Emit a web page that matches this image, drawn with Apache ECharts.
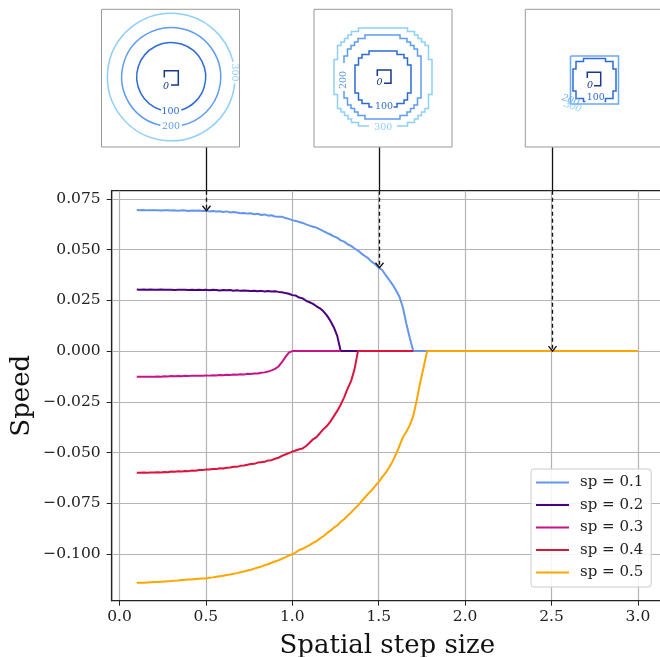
<!DOCTYPE html>
<html><head><meta charset="utf-8">
<script src="https://cdn.jsdelivr.net/npm/echarts@6/dist/echarts.min.js"></script>
<style>html,body{margin:0;padding:0;background:#fff}#c{width:660px;height:657px}</style>
</head><body><div id="c"></div>
<script>
// ---------------- data ----------------
const xs = [0.10,0.12,0.14,0.16,0.18,0.20,0.22,0.24,0.26,0.28,
            0.30,0.32,0.34,0.36,0.38,0.40,0.42,0.44,0.46,0.48,
            0.50,0.52,0.54,0.56,0.58,0.60,0.62,0.64,0.66,0.68,
            0.70,0.72,0.74,0.76,0.78,0.80,0.82,0.84,0.86,0.88,
            0.90,0.92,0.94,0.96,0.98,1.00,1.02,1.04,1.06,1.08,
            1.10,1.12,1.14,1.16,1.18,1.20,1.22,1.24,1.26,1.28,
            1.30,1.32,1.34,1.36,1.38,1.40,1.42,1.44,1.46,1.48,
            1.50,1.52,1.54,1.56,1.58,1.60,1.62,1.64,1.66,1.68,
            1.70,1.72,1.74,1.76,1.78,1.80];
const sp01 = [0.0696,0.0695,0.0696,0.0694,0.0695,0.0694,0.0695,0.0693,0.0694,0.0695,
              0.0693,0.0694,0.0692,0.0694,0.0693,0.0691,0.0693,0.0692,0.0693,0.0691,
              0.0692,0.0689,0.0691,0.0688,0.0690,0.0686,0.0689,0.0684,0.0686,0.0683,
              0.0680,0.0681,0.0678,0.0680,0.0675,0.0677,0.0671,0.0674,0.0668,0.0670,
              0.0664,0.0662,0.0663,0.0656,0.0652,0.0646,0.0642,0.0637,0.0632,0.0625,
              0.0619,0.0613,0.0609,0.0600,0.0592,0.0583,0.0575,0.0566,0.0559,0.0546,
              0.0540,0.0527,0.0519,0.0506,0.0496,0.0481,0.0469,0.0457,0.0440,0.0428,
              0.0411,0.0400,0.0375,0.0352,0.0328,0.0300,0.0268,0.0215,0.0135,0.0065,
              0,0,0,0,0];
const sp02 = [0.0304,0.0303,0.0304,0.0302,0.0304,0.0303,0.0302,0.0304,0.0303,0.0302,
              0.0303,0.0301,0.0303,0.0302,0.0303,0.0301,0.0302,0.0301,0.0303,0.0301,
              0.0302,0.0300,0.0302,0.0301,0.0299,0.0301,0.0300,0.0301,0.0298,0.0300,
              0.0297,0.0299,0.0298,0.0296,0.0298,0.0295,0.0297,0.0294,0.0296,0.0294,
              0.0295,0.0292,0.0290,0.0286,0.0283,0.0276,0.0274,0.0264,0.0260,0.0248,
              0.0241,0.0233,0.0221,0.0211,0.0196,0.0176,0.0150,0.0118,0.0075,0,
              0,0,0,0,0];
const sp03 = [-0.0127,-0.0127,-0.0126,-0.0127,-0.0126,-0.0126,-0.0125,-0.0126,-0.0124,-0.0125,
              -0.0123,-0.0124,-0.0123,-0.0124,-0.0122,-0.0123,-0.0121,-0.0122,-0.0121,-0.0122,
              -0.0120,-0.0121,-0.0119,-0.0120,-0.0118,-0.0119,-0.0117,-0.0118,-0.0116,-0.0117,
              -0.0114,-0.0116,-0.0112,-0.0113,-0.0110,-0.0111,-0.0107,-0.0105,-0.0101,-0.0095,
              -0.0088,-0.0076,-0.0055,-0.0030,-0.0008,0,0,0,0,0,
              0,0,0,0,0,0,0,0,0,0];
const sp04 = [-0.0600,-0.0600,-0.0599,-0.0600,-0.0599,-0.0599,-0.0598,-0.0599,-0.0596,-0.0597,
              -0.0594,-0.0595,-0.0593,-0.0594,-0.0591,-0.0592,-0.0589,-0.0590,-0.0586,-0.0587,
              -0.0584,-0.0584,-0.0581,-0.0582,-0.0578,-0.0579,-0.0575,-0.0574,-0.0570,-0.0571,
              -0.0566,-0.0564,-0.0561,-0.0557,-0.0556,-0.0550,-0.0548,-0.0546,-0.0539,-0.0538,
              -0.0531,-0.0526,-0.0517,-0.0510,-0.0503,-0.0496,-0.0490,-0.0484,-0.0480,-0.0468,
              -0.0452,-0.0435,-0.0424,-0.0405,-0.0385,-0.0370,-0.0348,-0.0322,-0.0295,-0.0265,
              -0.0228,-0.0185,-0.0148,-0.0090,0,0,0,0,0,0,
              0,0,0,0,0,0,0,0,0,0,
              0];
const sp05 = [-0.1143,-0.1142,-0.1142,-0.1141,-0.1140,-0.1139,-0.1139,-0.1137,-0.1136,-0.1135,
              -0.1134,-0.1132,-0.1131,-0.1129,-0.1128,-0.1126,-0.1126,-0.1124,-0.1123,-0.1122,
              -0.1121,-0.1118,-0.1116,-0.1113,-0.1110,-0.1108,-0.1104,-0.1102,-0.1098,-0.1095,
              -0.1091,-0.1087,-0.1082,-0.1078,-0.1073,-0.1067,-0.1063,-0.1056,-0.1051,-0.1044,
              -0.1038,-0.1032,-0.1024,-0.1017,-0.1008,-0.1002,-0.0993,-0.0981,-0.0975,-0.0966,
              -0.0957,-0.0946,-0.0937,-0.0924,-0.0913,-0.0898,-0.0887,-0.0871,-0.0860,-0.0842,
              -0.0829,-0.0812,-0.0796,-0.0778,-0.0762,-0.0741,-0.0722,-0.0703,-0.0686,-0.0665,
              -0.0645,-0.0622,-0.0601,-0.0574,-0.0544,-0.0509,-0.0468,-0.0425,-0.0398,-0.0365,
              -0.0320,-0.0243,-0.0155,-0.0080,0,0];
const tailX = [2.0, 2.5, 3.0];
const tailY = [0, 0, 0];
const seriesNames = ['sp = 0.1','sp = 0.2','sp = 0.3','sp = 0.4','sp = 0.5'];
const xTicks = [0.0, 0.5, 1.0, 1.5, 2.0, 2.5, 3.0];
const yTicks = [-0.100, -0.075, -0.050, -0.025, 0.000, 0.025, 0.050, 0.075];
const arrowTargets = [[0.5, 0], [1.5, 0], [2.5, 4]]; // [x, series index]
// ---------------------------------------

const colors = ['#6495ED', '#4B0082', '#C71585', '#DC143C', '#FFA500'];
const FONT = '"DejaVu Serif", serif';

function pairs(x, y) { return y.map((v, i) => [x[i], v]); }
const allData = [
  pairs(xs, sp01), pairs(xs, sp02), pairs(xs, sp03), pairs(xs, sp04),
  pairs(xs, sp05).concat(pairs(tailX, tailY))
];

const chart = echarts.init(document.getElementById('c'), null, {renderer: 'canvas'});

const option = {
  animation: false,
  backgroundColor: '#fff',
  grid: {left: 111.7, top: 190.7, right: -3, bottom: 56.3, show: true,
         containLabel: false, outerBoundsMode: 'none',
         borderColor: '#222', borderWidth: 1.2, backgroundColor: 'transparent'},
  xAxis: {
    type: 'value', min: -0.045, max: 3.145,
    name: 'Spatial step size', nameLocation: 'middle', nameGap: 33,
    nameTextStyle: {fontFamily: FONT, fontSize: 26, color: '#111'},
    axisLine: {show: true, onZero: false, lineStyle: {color: '#222', width: 1.2}},
    axisTick: {show: true, length: 5, customValues: xTicks, lineStyle: {color: '#222', width: 1}},
    axisLabel: {customValues: xTicks, margin: 8, fontFamily: FONT, fontSize: 15.5, color: '#222',
                formatter: v => v.toFixed(1)},
    splitLine: {show: true, lineStyle: {color: '#b4b4b4', width: 1.2}}
  },
  yAxis: {
    type: 'value', min: -0.1231, max: 0.0791,
    name: 'Speed', nameLocation: 'middle', nameGap: 76, nameRotate: 90, nameMoveOverlap: false,
    nameTextStyle: {fontFamily: FONT, fontSize: 26, color: '#111'},
    axisLine: {show: true, onZero: false, lineStyle: {color: '#222', width: 1.2}},
    axisTick: {show: true, length: 5, customValues: yTicks, lineStyle: {color: '#222', width: 1}},
    axisLabel: {customValues: yTicks, margin: 11, fontFamily: FONT, fontSize: 15.5, color: '#222',
                formatter: v => (v < -1e-9 ? '\u2212' : '') + Math.abs(v).toFixed(3)},
    splitLine: {show: true, lineStyle: {color: '#b4b4b4', width: 1.2}}
  },
  legend: {
    data: seriesNames.map(n => ({name: n, icon: 'rect'})),
    orient: 'vertical', left: 531, top: 469,
    padding: [6, 8, 7, 5], itemGap: 7.5, itemWidth: 33, itemHeight: 2.2,
    backgroundColor: 'rgba(255,255,255,0.85)', borderColor: '#cccccc', borderWidth: 1, borderRadius: 3,
    textStyle: {fontFamily: FONT, fontSize: 15, color: '#222', lineHeight: 15, padding: [0, 0, 0, 6]}
  },
  series: seriesNames.map((n, i) => ({
    name: n, type: 'line', data: allData[i], symbol: 'none', showSymbol: false,
    lineStyle: {color: colors[i], width: 2}, itemStyle: {color: colors[i]},
    z: 2 + i, clip: true
  }))
};
chart.setOption(option);

// --------- inset decorations ----------
const C0 = '#173a8c', C1 = '#2d6bd6', C2 = '#5e9cf0', C3 = '#8fcff8';
const LW = 1.5;
const g = [];
function txt(x, y, s, color, rot, italic) {
  g.push({type: 'text', x: x, y: y, rotation: rot || 0, z: 20,
    style: {text: s, fill: color, font: (italic ? 'italic ' : '') + '9.5px "DejaVu Serif"',
            align: 'center', verticalAlign: 'middle'}});
}
function poly(pts, color, w, dash) {
  g.push({type: 'polyline', z: 20, shape: {points: pts},
    style: {stroke: color, fill: null, lineWidth: w || LW, lineDash: dash || null}});
}
function arc(cx, cy, r, a0, a1, color) {
  g.push({type: 'arc', z: 20, shape: {cx: cx, cy: cy, r: r, startAngle: a0, endAngle: a1, clockwise: true},
    style: {stroke: color, fill: null, lineWidth: LW}});
}
function box(x, y, w, h) {
  g.push({type: 'rect', z: 15, shape: {x: x, y: y, width: w, height: h},
    style: {stroke: '#999', fill: '#fff', lineWidth: 1}});
}
function stepRing(cx, cy, rx, ry, n, step, gapC, gapH) {
  const pts = [];
  for (let a = gapC + gapH; a <= gapC + 360 - gapH + 1e-9; a += 1) {
    const t = a * Math.PI / 180, c = Math.cos(t), s = Math.sin(t);
    const ex = Math.sign(c) * Math.pow(Math.abs(c), 2 / n);
    const ey = Math.sign(s) * Math.pow(Math.abs(s), 2 / n);
    const x = cx + Math.round(rx * ex / step) * step;
    const y = cy + Math.round(ry * ey / step) * step;
    const last = pts[pts.length - 1];
    if (last && Math.abs(last[0] - x) < 1e-6 && Math.abs(last[1] - y) < 1e-6) continue;
    if (last && Math.abs(last[0] - x) > 1e-6 && Math.abs(last[1] - y) > 1e-6) {
      const c1 = [x, last[1]], c2 = [last[0], y];
      const d1 = Math.hypot((c1[0] - cx) / rx, (c1[1] - cy) / ry);
      const d2 = Math.hypot((c2[0] - cx) / rx, (c2[1] - cy) / ry);
      pts.push(d1 > d2 ? c1 : c2);
    }
    pts.push([x, y]);
  }
  return pts;
}

// inset 1
box(101.5, 9.3, 138, 137.7);
{
  const cx = 171.2, cy = 77;
  arc(cx, cy, 34.5, Math.PI / 2 + 0.30, Math.PI / 2 - 0.30 + 2 * Math.PI, C1);
  arc(cx, cy, 49.5, Math.PI / 2 + 0.22, Math.PI / 2 - 0.22 + 2 * Math.PI, C2);
  arc(cx, cy, 63.8, -0.07 + 0.17, -0.07 - 0.17 + 2 * Math.PI, C3);
  poly([[164.3, 77.5], [164.3, 70.7], [178.3, 70.7], [178.3, 85], [171, 85]], C0);
  txt(166, 86.5, '0', C0, 0, true);
  txt(170.5, 111.8, '100', C1);
  txt(171, 126.8, '200', C2);
  txt(234.5, 72.5, '300', C3, -Math.PI / 2);
}
// inset 2
box(314, 9.3, 138, 137.7);
{
  poly(stepRing(383, 79, 29.7, 28.3, 2.2, 3.5, 90, 19), C1);
  poly(stepRing(382.5, 77, 39.2, 42, 2.5, 3.5, 180, 14), C2);
  poly(stepRing(383, 77, 48, 50.3, 2.8, 3.5, 90, 12), C3);
  poly([[377.3, 76], [377.3, 70], [391, 70], [391, 83.3], [384, 83.3]], C0);
  txt(379.5, 83, '0', C0, 0, true);
  txt(384, 107, '100', C1);
  txt(343.3, 80, '200', C2, Math.PI / 2);
  txt(383.3, 127.3, '300', C3);
}
// inset 3
box(525.3, 9.3, 138, 137.7);
{
  const cx = 594.5, cy = 80;
  const sq = 24;
  poly([[cx - sq, cy - sq], [cx + sq, cy - sq], [cx + sq, cy + sq], [cx - sq, cy + sq], [cx - sq, cy - sq]], '#6aa8f8');
  const h = 21.5, a = 11, b = 18.5;
  poly([[cx - 9, cy + h], [cx - a, cy + h], [cx - a, cy + b], [cx - b, cy + b], [cx - b, cy + a], [cx - h, cy + a],
        [cx - h, cy - a], [cx - b, cy - a], [cx - b, cy - b], [cx - a, cy - b], [cx - a, cy - h],
        [cx + a, cy - h], [cx + a, cy - b], [cx + b, cy - b], [cx + b, cy - a], [cx + h, cy - a],
        [cx + h, cy + a], [cx + b, cy + a], [cx + b, cy + b], [cx + a, cy + b], [cx + a, cy + h], [cx + 10, cy + h]], C1);
  poly([[587.3, 78], [587.3, 72.3], [600.7, 72.3], [600.7, 85.7], [594, 85.7]], C0);
  txt(590, 86, '0', C0, 0, true);
  txt(595.7, 97.5, '100', C1);
  txt(570.5, 100.5, '200', '#6aa8f8', -0.35, true);
  txt(572.5, 107, '300', C3, -0.35, true);
}

// arrows to data points
const srcData = [sp01, sp02, sp03, sp04, sp05];
const topY = 147.5;
arrowTargets.forEach(([xv, si]) => {
  let yv = 0;
  const idx = xs.findIndex(v => Math.abs(v - xv) < 1e-9);
  if (idx >= 0 && idx < srcData[si].length) yv = srcData[si][idx];
  else { const k = tailX.findIndex(v => Math.abs(v - xv) < 1e-9); if (k >= 0) yv = tailY[k]; }
  const p = chart.convertToPixel({gridIndex: 0}, [xv, yv]);
  const px = Math.round(p[0]) + 0.5, py = p[1];
  const plotTop = 190.7;
  poly([[px, topY], [px, plotTop]], '#111', 1.3);
  poly([[px, plotTop], [px, py]], '#111', 1.3, [4, 3]);
  poly([[px - 4, py - 5], [px, py], [px + 4, py - 5]], '#111', 1.3);
});

chart.setOption({graphic: {elements: g}});
</script></body></html>
